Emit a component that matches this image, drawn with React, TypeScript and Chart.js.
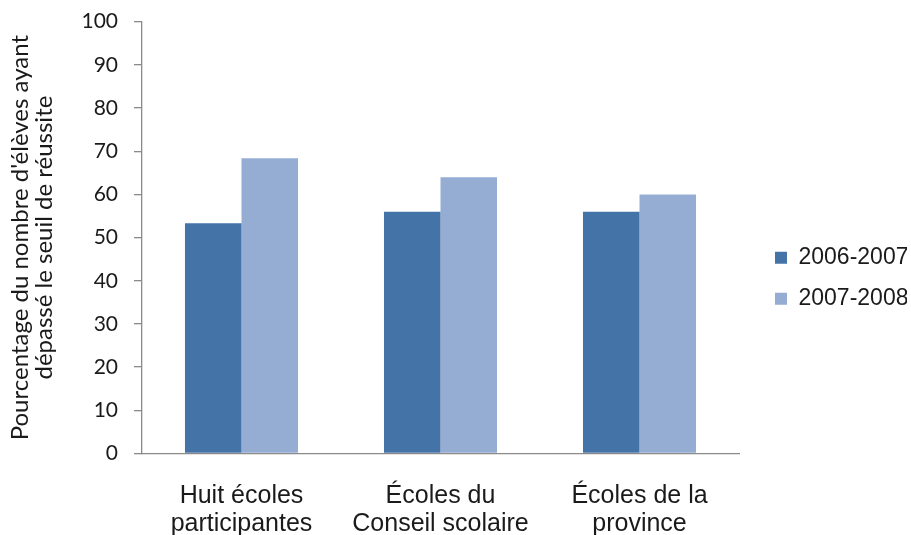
import React, { useEffect, useRef } from "react";
import { Chart, registerables } from "chart.js";

Chart.register(...registerables);

// Groupes comparés
const categories: string[][] = [
  ["Huit écoles", "participantes"],
  ["Écoles du", "Conseil scolaire"],
  ["Écoles de la", "province"],
];

// Pourcentages par année scolaire
const series2006: number[] = [53.3, 56, 56];
const series2007: number[] = [68.4, 64, 60];

const seriesLabels: string[] = ["2006-2007", "2007-2008"];
const yTitle: string[] = [
  "Pourcentage du nombre d'élèves ayant",
  "dépassé le seuil de réussite",
];

const W = 911;
const H = 535;
const AXIS_GREY = "#8a8a8a";

// Moves the legend block horizontally without changing the plot area.
const legendShift = {
  id: "legendShift",
  afterLayout(chart: any) {
    const lg = chart.legend;
    if (!lg) return;
    const targetLeft = 757;
    const dx = targetLeft - lg.left;
    lg.left += dx;
    lg.right += dx;
  },
};

export default function App() {
  const ref = useRef<HTMLCanvasElement | null>(null);

  useEffect(() => {
    if (!ref.current) return;
    const chart = new Chart(ref.current, {
      type: "bar",
      data: {
        labels: categories,
        datasets: [
          {
            label: seriesLabels[0],
            data: series2006,
            backgroundColor: "#4473a8",
            borderWidth: 0,
          },
          {
            label: seriesLabels[1],
            data: series2007,
            backgroundColor: "#95add3",
            borderWidth: 0,
          },
        ],
      },
      options: {
        responsive: false,
        animation: false,
        layout: { padding: { top: 21.7, right: 22, bottom: 0, left: 0 } },
        datasets: {
          bar: { categoryPercentage: 0.568, barPercentage: 1 },
        },
        plugins: {
          tooltip: { enabled: false },
          legend: {
            position: "right",
            maxWidth: 150,
            labels: {
              boxWidth: 12,
              boxHeight: 12,
              padding: 18,
              color: "#1a1a1a",
              font: { family: "'Liberation Sans', Arial, sans-serif", size: 23 },
            },
          },
        },
        scales: {
          x: {
            grid: { display: false, drawTicks: false },
            border: { display: true, color: AXIS_GREY, width: 1.3 },
            ticks: {
              color: "#1a1a1a",
              padding: 28.5,
              maxRotation: 0,
              autoSkip: false,
              font: {
                family: "'Liberation Sans', Arial, sans-serif",
                size: 25,
                lineHeight: "28px",
              },
            },
            afterFit(scale: any) {
              scale.height = H - 453.5;
            },
          },
          y: {
            min: 0,
            max: 100,
            ticks: {
              stepSize: 10,
              padding: 16,
              color: "#1a1a1a",
              font: { family: "Lato, sans-serif", size: 21 },
            },
            grid: {
              drawOnChartArea: false,
              drawTicks: true,
              tickLength: 8,
              color: AXIS_GREY,
              lineWidth: 1.3,
            },
            border: { display: true, color: AXIS_GREY, width: 1.3 },
            title: {
              display: true,
              text: yTitle,
              color: "#1a1a1a",
              padding: { top: 8, bottom: 0 },
              font: { family: "Lato, sans-serif", size: 24, lineHeight: "24px" },
            },
            afterFit(scale: any) {
              scale.width = 142;
              // the plot top/bottom come from the layout padding and the x axis height
              scale.paddingTop = 0;
              scale.paddingBottom = 0;
            },
          },
        },
      },
      plugins: [legendShift],
    });
    return () => chart.destroy();
  }, []);

  return (
    <div style={{ position: "absolute", left: 0, top: 0, width: W, height: H, background: "#fff" }}>
      <canvas ref={ref} width={W} height={H} />
    </div>
  );
}
